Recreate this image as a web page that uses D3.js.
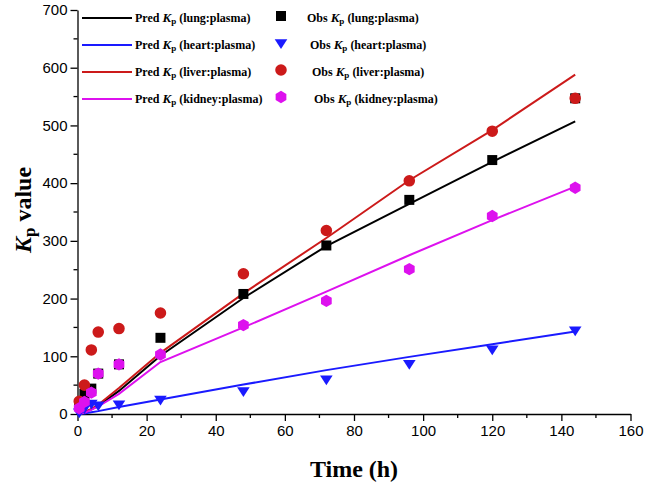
<!DOCTYPE html>
<html><head><meta charset="utf-8">
<script src="https://cdn.jsdelivr.net/npm/d3@7/dist/d3.min.js"></script>
<style>body{margin:0;background:#fff}svg{display:block}</style>
</head><body>
<svg id="c" width="645" height="487"></svg>
<script>
// ---- data ----
const predTime   = [0, 2, 4, 6, 12, 24, 48, 72, 96, 120, 144];
const predLung   = [0, 3, 8, 14, 40, 101, 201, 291, 364, 437, 507];
const predHeart  = [0, 1, 3, 5, 12, 25, 51, 76, 99, 121, 143];
const predLiver  = [0, 3, 9, 16, 45, 106, 209, 305, 405, 492, 588];
const predKidney = [0, 2, 7, 13, 35, 90, 150, 212, 275, 336, 394];

const obsTime    = [0.5, 2, 4, 6, 12, 24, 48, 72, 96, 120, 144];
const obsLung    = [15, 35, 44, 70, 86, 132, 208, 292, 371, 440, 547];
const obsHeart   = [3, 10, 18, 15, 17, 25, 40, 60, 87, 112, 145];
const obsLiver   = [22, 50, 111, 142, 148, 175, 243, 318, 404, 490, 547];
const obsKidney  = [10, 21, 37, 70, 86, 103, 154, 196, 251, 343, 392];

const organs = ["lung", "heart", "liver", "kidney"];
const colors = ["#000000", "#1a1aff", "#cc1a1a", "#dd11ee"];
const xTicks = [0, 20, 40, 60, 80, 100, 120, 140, 160];
const yTicks = [0, 100, 200, 300, 400, 500, 600, 700];

const svg = d3.select("#c");
const x = d3.scaleLinear().domain([0, 160]).range([77.5, 630.5]);
const y = d3.scaleLinear().domain([0, 700]).range([414, 10]);

// axes
const xAxis = d3.axisBottom(x).tickValues(xTicks).tickSize(7).tickSizeOuter(0).tickPadding(4);
const yAxis = d3.axisLeft(y).tickValues(yTicks).tickSize(7).tickSizeOuter(0).tickPadding(3);
const gx = svg.append("g").attr("transform", `translate(0,${y(0)})`).call(xAxis);
const gy = svg.append("g").attr("transform", `translate(${x(0)},0)`).call(yAxis);
// minor ticks
svg.append("g").selectAll("line").data(d3.range(10, 160, 20)).join("line")
  .attr("x1", d => x(d)).attr("x2", d => x(d)).attr("y1", y(0)).attr("y2", y(0) + 4)
  .attr("stroke", "#000").attr("stroke-width", 1.3);
svg.append("g").selectAll("line").data(d3.range(50, 700, 100)).join("line")
  .attr("y1", d => y(d)).attr("y2", d => y(d)).attr("x1", x(0)).attr("x2", x(0) - 4)
  .attr("stroke", "#000").attr("stroke-width", 1.3);
[gx, gy].forEach(g => {
  g.selectAll("path,line").attr("stroke", "#000").attr("stroke-width", 1.3);
  g.selectAll("text").attr("font-family", "Liberation Sans, Arial, sans-serif").attr("font-size", 15).attr("fill", "#000");
});

// lines
const preds = [predLung, predHeart, predLiver, predKidney];
const line = d3.line().x((d, i) => x(predTime[i])).y(d => y(d));
preds.forEach((p, k) => {
  svg.append("path").datum(p).attr("d", line).attr("fill", "none")
    .attr("stroke", colors[k]).attr("stroke-width", 2);
});

// markers
function hexPath(r) {
  const pts = d3.range(6).map(i => { const a = Math.PI / 6 + i * Math.PI / 3; return [r * Math.cos(a), r * Math.sin(a)]; });
  return "M" + pts.map(p => p.join(",")).join("L") + "Z";
}
function triDown(s) { return `M${-s},${-s * 0.6}L${s},${-s * 0.6}L0,${s * 0.95}Z`; }
const shapes = [
  d3.symbol().type(d3.symbolSquare).size(100)(),
  triDown(6.3),
  d3.symbol().type(d3.symbolCircle).size(105)(),
  hexPath(6.2)
];
const obs = [obsLung, obsHeart, obsLiver, obsKidney];
obs.forEach((o, k) => {
  svg.append("g").selectAll("path").data(o).join("path")
    .attr("d", shapes[k])
    .attr("transform", (d, i) => `translate(${x(obsTime[i])},${y(d)})`)
    .attr("fill", colors[k]);
});

// legend
const serif = "Liberation Serif, Times New Roman, serif";
const legY = [18, 45, 72, 99];
const obsTextX = [307, 310, 312, 314];
function kpText(g, xpos, ypos, pre, post) {
  const t = g.append("text").attr("x", xpos).attr("y", ypos + 4)
    .attr("font-family", serif).attr("font-weight", "bold").attr("font-size", 12).attr("fill", "#000");
  t.append("tspan").text(pre + " ");
  t.append("tspan").attr("font-style", "italic").attr("font-size", 13).text("K");
  t.append("tspan").attr("font-size", 9).attr("dy", 2).text("p");
  t.append("tspan").attr("dy", -2).text(" " + post);
}
const lg = svg.append("g");
organs.forEach((o, k) => {
  lg.append("line").attr("x1", 82).attr("x2", 132).attr("y1", legY[k]).attr("y2", legY[k])
    .attr("stroke", colors[k]).attr("stroke-width", 2);
  kpText(lg, 135, legY[k], "Pred", `(${o}:plasma)`);
  lg.append("path").attr("d", shapes[k]).attr("transform", `translate(${281},${legY[k] - 2})`).attr("fill", colors[k]);
  kpText(lg, obsTextX[k], legY[k], "Obs", `(${o}:plasma)`);
});

// axis titles
svg.append("text").attr("x", 354).attr("y", 477).attr("text-anchor", "middle")
  .attr("font-family", serif).attr("font-weight", "bold").attr("font-size", 24).text("Time (h)");
const yt = svg.append("text").attr("transform", "translate(31,210) rotate(-90)").attr("text-anchor", "middle")
  .attr("font-family", serif).attr("font-weight", "bold").attr("font-size", 24);
yt.append("tspan").attr("font-style", "italic").text("K");
yt.append("tspan").attr("font-size", 17).attr("dy", 4).text("p");
yt.append("tspan").attr("dy", -4).text(" value");
</script>
</body></html>
